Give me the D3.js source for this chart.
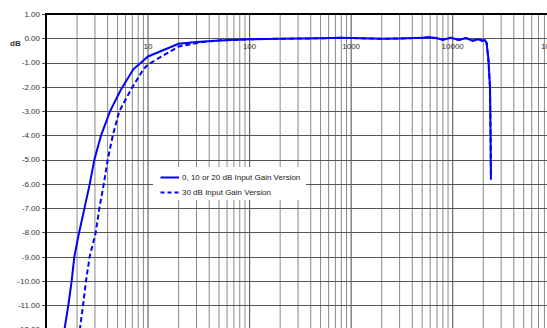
<!DOCTYPE html>
<html>
<head>
<meta charset="utf-8">
<script src="https://cdn.jsdelivr.net/npm/d3@7"></script>
<style>
  body { margin: 0; background: #fff; }
  svg { display: block; font-family: "Liberation Sans", Arial, sans-serif; }
</style>
</head>
<body>
<svg id="chart"></svg>
<script>
// tick values
const dbTicks = [1, 0, -1, -2, -3, -4, -5, -6, -7, -8, -9, -10, -11, -12, -13];
const freqLabels = [10, 100, 1000, 10000, 100000];

// 0, 10 or 20 dB input gain version
const freqSolid = [1.38, 1.51, 1.64, 1.77, 1.88, 2.09, 2.36, 2.66, 2.96, 3.44, 4.22, 5.38, 7.16, 10, 20, 30, 50,
  100, 200, 500, 800, 1000, 2000, 3000, 5000, 6000, 7000, 8000, 9600, 11500, 13500, 15700, 17900, 19600,
  20800, 21600, 22500, 23300, 23600, 23800];
const dbSolid = [-13.0, -11.94, -11.0, -10.0, -9.0, -8.02, -7.02, -6.02, -5.0, -4.01, -3.01, -2.13, -1.28, -0.75, -0.23, -0.15, -0.09,
  -0.04, -0.02, 0.0, 0.02, 0.01, -0.02, -0.01, 0.02, 0.04, 0.0, -0.06, 0.02, -0.07, 0.01, -0.1, -0.04, -0.1,
  -0.08, -0.2, -0.9, -2.05, -4.0, -5.82];

// 30 dB input gain version (low end only, above 50 Hz it follows the solid curve)
const freqDashed = [1.98, 2.14, 2.29, 2.45, 2.66, 3.05, 3.31, 3.66, 4.01, 4.49, 5.21, 6.75, 8.98, 10, 20, 35, 50];
const dbDashed = [-13.0, -11.94, -11.0, -10.0, -9.0, -8.02, -7.02, -6.02, -5.0, -4.01, -3.01, -2.13, -1.28, -1.08, -0.34, -0.15, -0.09];

const seriesNames = ["0, 10 or 20 dB Input Gain Version", "30 dB Input Gain Version"];

const width = 547, height = 328;
const svg = d3.select("#chart").attr("width", width).attr("height", height);

const x = d3.scaleLog().domain([1, 100000]).range([46.5, 554.25]);
const y = d3.scaleLinear().domain([1, -13]).range([14, 14 + 14 * 24.27]);

const solid = freqSolid.map((f, i) => [f, dbSolid[i]]);
const dashed = freqDashed.map((f, i) => [f, dbDashed[i]])
  .concat(solid.filter(d => d[0] > 50));

// vertical grid
const minor = [];
for (let dec = 1; dec < 100000; dec *= 10) {
  for (let k = 2; k <= 9; k++) minor.push(dec * k);
}
svg.append("g").selectAll("line").data(minor).join("line")
  .attr("x1", d => x(d)).attr("x2", d => x(d))
  .attr("y1", y(1)).attr("y2", height)
  .attr("stroke", "#8a8a8a").attr("stroke-width", 1);

svg.append("g").selectAll("line").data(freqLabels).join("line")
  .attr("x1", d => x(d)).attr("x2", d => x(d))
  .attr("y1", y(1)).attr("y2", height)
  .attr("stroke", "#666").attr("stroke-width", 1.2);

// horizontal grid + ticks
svg.append("g").selectAll("line").data(dbTicks).join("line")
  .attr("x1", 42).attr("x2", width)
  .attr("y1", d => Math.round(y(d)) + 0.5).attr("y2", d => Math.round(y(d)) + 0.5)
  .attr("stroke", "#555").attr("stroke-width", 1);

// legend background
svg.append("rect")
  .attr("x", 153).attr("y", 167).attr("width", 153).attr("height", 33)
  .attr("fill", "#fff");

// borders
svg.append("line").attr("x1", 45).attr("x2", width).attr("y1", 14).attr("y2", 14)
  .attr("stroke", "#000").attr("stroke-width", 2);
svg.append("line").attr("x1", 46).attr("x2", 46).attr("y1", 13).attr("y2", height)
  .attr("stroke", "#000").attr("stroke-width", 2);

// y labels
svg.append("g").selectAll("text").data(dbTicks).join("text")
  .attr("x", 40).attr("y", d => y(d)).attr("dy", "0.35em")
  .attr("text-anchor", "end").attr("font-size", 8).attr("fill", "#333")
  .text(d => d.toFixed(2));

svg.append("text").attr("x", 10).attr("y", 46)
  .attr("font-size", 8).attr("font-weight", "bold").attr("fill", "#333").text("dB");

// x labels
svg.append("g").selectAll("text").data(freqLabels).join("text")
  .attr("x", d => x(d)).attr("y", 49)
  .attr("text-anchor", "middle").attr("font-size", 8).attr("fill", "#333")
  .text(d => d);

// curves
const line = d3.line().x(d => x(d[0])).y(d => y(d[1]));

svg.append("path").datum(dashed).attr("d", line)
  .attr("fill", "none").attr("stroke", "#0000ff").attr("stroke-width", 2)
  .attr("stroke-dasharray", "5,3");
svg.append("path").datum(solid).attr("d", line)
  .attr("fill", "none").attr("stroke", "#0000ff").attr("stroke-width", 2);

// legend
const leg = svg.append("g");
seriesNames.forEach((name, i) => {
  const ly = 177.5 + i * 15;
  leg.append("line").attr("x1", 160.5).attr("x2", 179).attr("y1", ly).attr("y2", ly)
    .attr("stroke", "#0000ff").attr("stroke-width", 2)
    .attr("stroke-dasharray", i === 1 ? "4,3" : null);
  leg.append("text").attr("x", 182).attr("y", ly).attr("dy", "0.35em")
    .attr("font-size", 8).attr("fill", "#222").text(name);
});
</script>
</body>
</html>
